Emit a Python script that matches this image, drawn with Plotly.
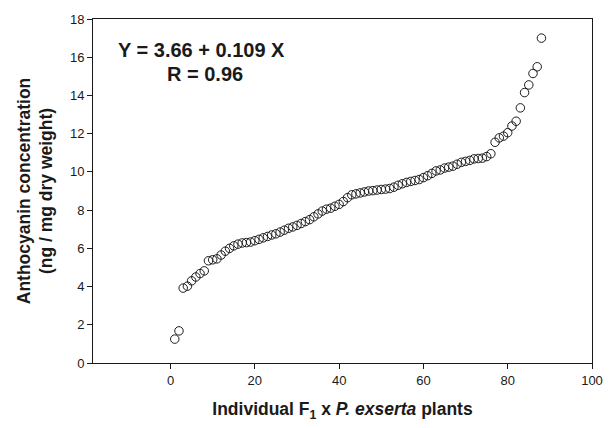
import plotly.graph_objects as go

# Plant index (individual F1 x P. exserta plants, ranked by concentration)
plant = list(range(1, 89))

# Anthocyanin concentration (ng / mg dry weight), sorted ascending
anthocyanin = [
    1.25, 1.68, 3.92, 4.02, 4.30, 4.50, 4.68, 4.82, 5.35, 5.40,
    5.45, 5.65, 5.85, 6.00, 6.13, 6.22, 6.28, 6.30, 6.33, 6.40,
    6.47, 6.55, 6.62, 6.70, 6.76, 6.85, 6.95, 7.05, 7.12, 7.20,
    7.30, 7.40, 7.50, 7.65, 7.80, 7.95, 8.05, 8.10, 8.20, 8.30,
    8.45, 8.65, 8.80, 8.85, 8.90, 8.95, 9.00, 9.02, 9.05, 9.08,
    9.10, 9.13, 9.20, 9.30, 9.38, 9.45, 9.50, 9.55, 9.60, 9.70,
    9.80, 9.92, 10.05, 10.10, 10.20, 10.25, 10.30, 10.40, 10.50, 10.55,
    10.60, 10.68, 10.70, 10.72, 10.80, 10.95, 11.55, 11.78, 11.87, 12.05,
    12.40, 12.65, 13.35, 14.15, 14.55, 15.15, 15.50, 17.00,
]

x_ticks = [0, 20, 40, 60, 80, 100]
y_ticks = [0, 2, 4, 6, 8, 10, 12, 14, 16, 18]

FONT = "Liberation Sans, Arial, sans-serif"
INK = "#1a1a1a"

fig = go.Figure(
    go.Scatter(
        x=plant,
        y=anthocyanin,
        mode="markers",
        marker=dict(symbol="circle-open", size=8.5, color=INK, line=dict(width=1)),
        showlegend=False,
        hoverinfo="x+y",
    )
)

axis_common = dict(
    showgrid=False,
    zeroline=False,
    showline=True,
    linecolor=INK,
    linewidth=1,
    mirror=True,
    ticks="outside",
    ticklen=5,
    tickwidth=1,
    tickcolor=INK,
    tickfont=dict(family=FONT, size=13, color=INK),
)

fig.update_xaxes(
    range=[-18.4, 100],
    tickvals=x_ticks,
    title=dict(
        text="<b>Individual F<sub>1</sub> x <i>P. exserta</i> plants</b>",
        font=dict(family=FONT, size=17.5, color=INK),
        standoff=16,
    ),
    **axis_common,
)
fig.update_yaxes(
    range=[0, 18],
    tickvals=y_ticks,
    title=dict(
        text="<b>Anthocyanin concentration</b><br><b>(ng / mg dry weight)</b>",
        font=dict(family=FONT, size=17.5, color=INK),
        standoff=12,
    ),
    **axis_common,
)

# regression equation and correlation coefficient
fig.add_annotation(
    x=7.4, y=16.4, xref="x", yref="y",
    xanchor="center", yanchor="middle",
    text="<b>Y = 3.66 + 0.109 X</b>",
    showarrow=False,
    font=dict(family=FONT, size=20, color=INK),
)
fig.add_annotation(
    x=8.1, y=15.1, xref="x", yref="y",
    xanchor="center", yanchor="middle",
    text="<b>R = 0.96</b>",
    showarrow=False,
    font=dict(family=FONT, size=20, color=INK),
)

fig.update_layout(
    width=615,
    height=428,
    margin=dict(l=93, r=22, t=16, b=62),
    paper_bgcolor="white",
    plot_bgcolor="white",
    font=dict(family=FONT, color=INK),
)

fig.write_html("out.html")
